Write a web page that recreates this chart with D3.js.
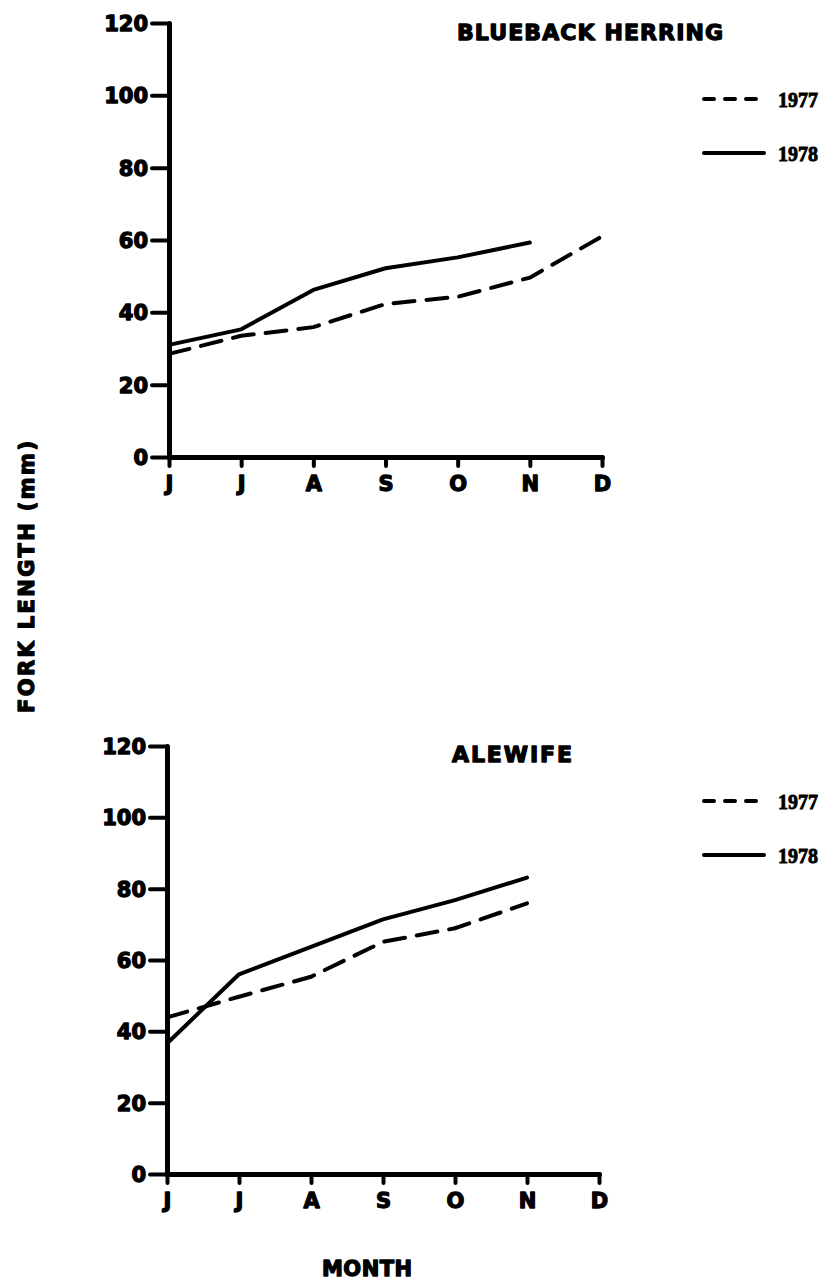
<!DOCTYPE html>
<html>
<head>
<meta charset="utf-8">
<script src="https://cdn.jsdelivr.net/npm/d3@7"></script>
<style>
  html, body { margin: 0; padding: 0; background: #fff; }
  svg { display: block; }
  .lbl { font-family: "DejaVu Sans", sans-serif; font-weight: bold; fill: #000;
         stroke: #000; stroke-width: 1.3px; stroke-linejoin: round; }
  .yr { font-family: "Liberation Serif", serif; font-weight: bold; fill: #000;
        stroke: #000; stroke-width: 0.9px; }
</style>
</head>
<body>
<script>
// Month ticks (June through December) and fork-length ticks
const months = ["J", "J", "A", "S", "O", "N", "D"];
const yTicks = [0, 20, 40, 60, 80, 100, 120];
const years = ["1977", "1978"];

// Mean fork length (mm) by month, June onward
const blueback1977 = [28.5, 33.5, 35.9, 42.3, 44.3, 49.6, 61.0];
const blueback1978 = [31.0, 35.3, 46.2, 52.2, 55.2, 59.3];
const alewife1977 = [43.9, 49.7, 55.3, 65.1, 68.9, 75.9];
const alewife1978 = [36.6, 56.0, 63.7, 71.4, 76.8, 83.1];

const W = 828, H = 1281;
const svg = d3.select("body").append("svg").attr("width", W).attr("height", H);

const panels = [
  { title: "BLUEBACK HERRING", titleX: 457, titleY: 40, titleLen: 266,
    s1977: blueback1977, s1978: blueback1978,
    xr: [169, 602], yr: [457, 23], legendY: 99 },
  { title: "ALEWIFE", titleX: 452, titleY: 762, titleLen: 120,
    s1977: alewife1977, s1978: alewife1978,
    xr: [167, 599], yr: [1174, 746], legendY: 801 }
];

const dash = "21,12";

panels.forEach(p => {
  const x = d3.scalePoint().domain(d3.range(months.length)).range(p.xr);
  const y = d3.scaleLinear().domain([0, 120]).range(p.yr);
  const g = svg.append("g");

  // y axis
  const ya = g.append("g")
    .attr("transform", `translate(${p.xr[0]},0)`)
    .call(d3.axisLeft(y).tickValues(yTicks).tickSize(17).tickPadding(4).tickSizeOuter(0));
  ya.select(".domain").attr("stroke", "#000").attr("stroke-width", 5)
    .attr("stroke-linecap", "round");
  ya.selectAll(".tick line").attr("stroke", "#000").attr("stroke-width", 4)
    .attr("stroke-linecap", "round");
  ya.selectAll(".tick text").attr("class", "lbl").attr("font-size", 21)
    .attr("dy", "0.36em");

  // x axis
  const xa = g.append("g")
    .attr("transform", `translate(0,${p.yr[0]})`)
    .call(d3.axisBottom(x).tickFormat(i => months[i]).tickSize(9).tickPadding(10).tickSizeOuter(0));
  xa.select(".domain").attr("stroke", "#000").attr("stroke-width", 5)
    .attr("stroke-linecap", "round");
  xa.selectAll(".tick line").attr("stroke", "#000").attr("stroke-width", 4)
    .attr("stroke-linecap", "round");
  xa.selectAll(".tick text").attr("class", "lbl").attr("font-size", 21);

  const line = d3.line().x((d, i) => x(i)).y(d => y(d));

  g.append("path").datum(p.s1977)
    .attr("d", line).attr("fill", "none").attr("stroke", "#000")
    .attr("stroke-width", 4).attr("stroke-dasharray", dash).attr("stroke-linecap", "round");
  g.append("path").datum(p.s1978)
    .attr("d", line).attr("fill", "none").attr("stroke", "#000")
    .attr("stroke-width", 4).attr("stroke-linecap", "round").attr("stroke-linejoin", "round");

  // panel title
  g.append("text").attr("class", "lbl").attr("x", p.titleX).attr("y", p.titleY)
    .attr("font-size", 22).attr("textLength", p.titleLen).attr("lengthAdjust", "spacing")
    .text(p.title);

  // legend
  const lg = g.append("g");
  years.forEach((yr, k) => {
    const ly = p.legendY + k * 54;
    lg.append("line").attr("x1", 704).attr("x2", 764).attr("y1", ly).attr("y2", ly)
      .attr("stroke", "#000").attr("stroke-width", 4).attr("stroke-linecap", "round")
      .attr("stroke-dasharray", k === 0 ? "10,11" : null);
    lg.append("text").attr("class", "yr").attr("x", 778).attr("y", ly + 8)
      .attr("font-size", 22).attr("textLength", 40).attr("lengthAdjust", "spacingAndGlyphs")
      .text(yr);
  });
});

// shared axis titles
svg.append("text").attr("class", "lbl")
  .attr("transform", "translate(34,577) rotate(-90)")
  .attr("text-anchor", "middle").attr("font-size", 21)
  .attr("textLength", 272).attr("lengthAdjust", "spacing")
  .text("FORK LENGTH (mm)");

svg.append("text").attr("class", "lbl")
  .attr("x", 367).attr("y", 1276).attr("text-anchor", "middle")
  .attr("font-size", 21).attr("textLength", 90).attr("lengthAdjust", "spacing")
  .text("MONTH");
</script>
</body>
</html>
